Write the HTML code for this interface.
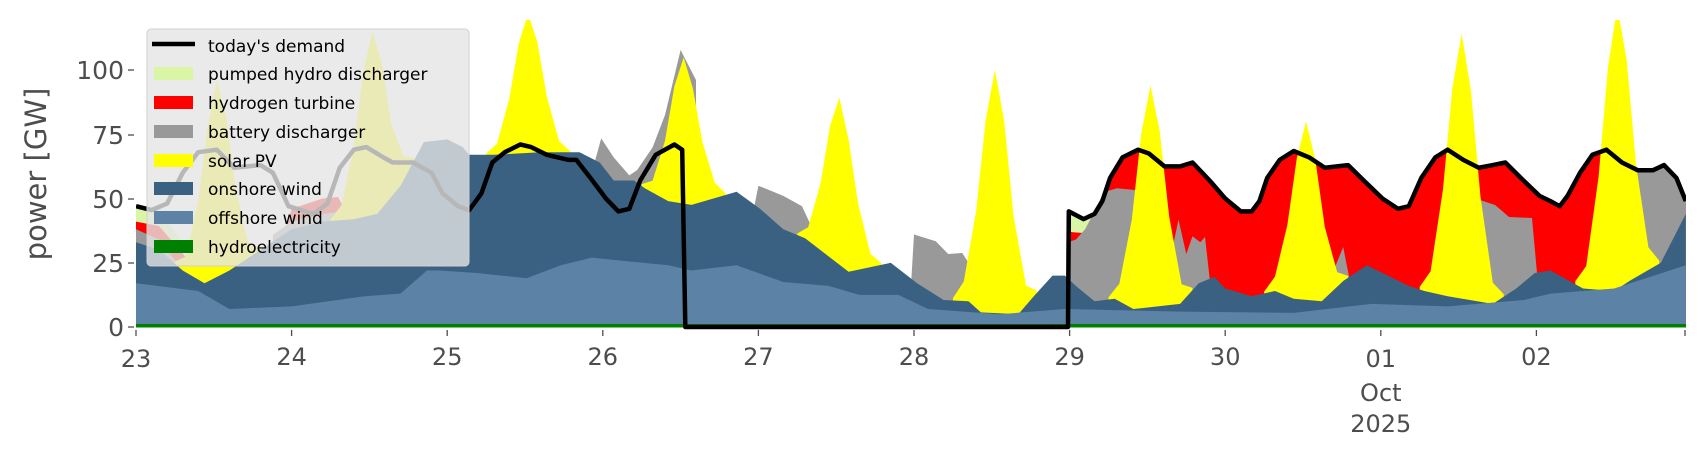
<!DOCTYPE html>
<html><head><meta charset="utf-8"><style>
html,body{margin:0;padding:0;background:#fff;}
svg{display:block;font-family:"DejaVu Sans","Liberation Sans",sans-serif;}
</style></head><body>
<svg width="1706" height="460" viewBox="0 0 1706 460" xmlns="http://www.w3.org/2000/svg">
<defs><clipPath id="cp"><rect x="136" y="20" width="1550" height="310"/></clipPath></defs>
<g clip-path="url(#cp)">
<!-- hydrogen (late) up to demand -->
<path fill="#ff0000" d="M1068.8,327 L1068.8,211.4 L1083.6,219.1 L1094.5,213.9 L1102.3,201.1 L1110.1,177.9 L1122.5,157.4 L1138.1,149.7 L1148.9,153.5 L1164.5,166.4 L1180.1,166.4 L1192.5,162.5 L1209.6,180.5 L1225.2,198.5 L1240.8,211.4 L1251.7,211.4 L1259.4,201.1 L1267.2,177.9 L1279.7,159.9 L1293.7,151.0 L1309.2,157.4 L1324.8,167.7 L1348.1,165.1 L1363.7,180.5 L1382.4,198.5 L1397.9,208.8 L1408.8,206.2 L1421.3,177.9 L1435.3,157.4 L1447.7,149.7 L1463.3,159.9 L1478.8,167.7 L1492.8,165.1 L1505.3,162.5 L1520.8,177.9 L1539.5,195.9 L1550.4,201.1 L1559.7,206.2 L1567.5,195.9 L1580.0,172.8 L1592.4,154.8 L1606.4,149.7 L1622.0,162.5 L1637.6,170.2 L1653.1,170.2 L1664.0,165.1 L1676.4,177.9 L1685.8,201.1 L1685.8,327 Z"/>
<!-- pumped hydro -->
<path fill="#d9f5a6" d="M136,208.8 L160,210 L180,240 L180,327 L136,327 Z"/>
<path fill="#d9f5a6" d="M1068.8,212 L1083.6,219 L1094,216 L1098,228 L1083,233 L1070,232 Z"/>
<!-- hydrogen early -->
<path fill="#ff0000" d="M136,221.6 L159,226 L190,262 L205,280 L205,327 L136,327 Z"/>
<path fill="#ff0000" d="M286,229.3 L291.6,208.8 L322.7,198.5 L338,197 L350,219 L350,327 L286,327 Z"/>
<!-- battery -->
<g fill="#999999">
<path d="M136,229.3 L159.3,239.6 L182.7,270.5 L182.7,327 L136,327 Z"/>
<path d="M272.9,235 L291.6,221.6 L322.7,213.9 L338,212 L353.8,219.1 L353.8,327 L272.9,327 Z"/>
<path d="M595,161 L601.2,138.4 L613.7,157.4 L629.3,175.4 L637,170.2 L652.6,147.4 L665,115 L680.6,50 L696,80 L696,327 L595,327 Z"/>
<path d="M753.8,209 L758.4,185.7 L783.3,195.9 L802,206.2 L809.8,223 L809.8,327 L753.8,327 Z"/>
<path d="M910.9,287 L914,234.5 L935.8,241.2 L948.2,254 L962.2,253 L968.5,262.7 L968.5,327 L910.9,327 Z"/>
<path d="M1066.4,275.6 L1066.4,242.7 L1075.8,239.6 L1085.1,229.3 L1094.5,211.4 L1103.8,192.1 L1116.9,188.2 L1135,190 L1135,327 L1066.4,327 Z"/>
<path d="M1170,260 L1178.5,219.6 L1186.3,254 L1192.5,236.3 L1200.3,242.2 L1205,237 L1209.6,278 L1209.6,327 L1170,327 Z"/>
<path d="M1318.6,301 L1333.8,270 L1343.2,247 L1349.7,280 L1349.7,327 L1318.6,327 Z"/>
<path d="M1480,200 L1495,205 L1501,210 L1509,217 L1532,218 L1537,273 L1537,327 L1480,327 Z"/>
<path d="M1636,170 L1653.1,170.2 L1664.0,165.1 L1676.4,177.9 L1685.8,201.1 L1685.8,327 L1636,327 Z"/>
</g>
<!-- solar -->
<g fill="#ffff00">
<path d="M174.9,327 L174.9,261.5 L185.8,256.6 L198.2,201.1 L207.6,126.5 L216.9,80.3 L226.2,116.8 L235.6,187.7 L248.0,242.4 L258.9,248.9 L258.9,327 Z"/>
<path d="M330.5,327 L330.5,219.1 L341.4,205.4 L353.8,145.6 L363.2,72.1 L372.5,31.5 L381.8,63.3 L391.2,123.5 L403.6,156.6 L414.5,157.6 L414.5,327 Z"/>
<path d="M486.1,327 L486.1,153.5 L497.0,143.8 L509.4,98.3 L518.8,43.3 L528.1,13.5 L537.4,42.2 L546.8,96.5 L559.2,141.2 L570.1,151.0 L570.1,327 Z"/>
<path d="M641.7,327 L641.7,184.1 L652.6,180.8 L665.0,140.7 L674.4,86.2 L683.7,57.2 L693.0,89.0 L702.4,142.0 L714.8,182.8 L725.7,193.4 L725.7,327 Z"/>
<path d="M797.3,327 L797.3,233.5 L808.2,227.3 L820.6,183.3 L830.0,126.0 L839.3,97.5 L848.6,139.6 L858.0,202.9 L870.4,253.8 L881.3,263.0 L881.3,327 Z"/>
<path d="M952.9,327 L952.9,298.2 L963.8,281.5 L976.2,210.8 L985.6,120.4 L994.9,70 L1004.2,121.1 L1013.6,216.5 L1026.0,285.6 L1036.9,290.5 L1036.9,327 Z"/>
<path d="M1108.5,327 L1108.5,297.2 L1119.4,283.6 L1131.8,219.6 L1141.2,133.7 L1150.5,85.4 L1159.8,131.7 L1169.2,216.7 L1181.6,284.3 L1192.5,287.9 L1192.5,327 Z"/>
<path d="M1264.1,327 L1264.1,291.8 L1275.0,276.6 L1287.4,224.7 L1296.8,158.2 L1306.1,121.4 L1315.4,160 L1324.8,227 L1337.2,272.3 L1348.1,275.9 L1348.1,327 Z"/>
<path d="M1419.7,327 L1419.7,286.9 L1430.6,271.2 L1443.0,189.2 L1452.4,87.7 L1461.7,33.8 L1471.0,91.1 L1480.4,195.9 L1492.8,282.8 L1503.7,294.1 L1503.7,327 Z"/>
<path d="M1575.3,327 L1575.3,281.3 L1586.2,266.1 L1598.6,176.7 L1608.0,67.2 L1617.3,6.3 L1626.6,59.5 L1636.0,164.1 L1648.4,247.3 L1659.3,260.7 L1659.3,327 Z"/>
</g>
<!-- onshore -->
<path fill="#3b6182" d="M136,327 L136,242.2 L159.3,249.9 L182.7,270.5 L204.5,283.3 L229.4,270.5 L260.5,249.9 L291.6,229.3 L322.7,221.6 L353.8,219.1 L377.2,213.9 L400.5,185.7 L423.9,142.0 L447.2,139.4 L462.8,147.1 L469.0,154.8 L493.9,154.8 L540.6,152.2 L579.5,152.2 L599.7,162.5 L613.7,180.5 L633.9,180.5 L644.8,188.2 L668.2,201.1 L691.5,204.9 L736.6,191.8 L760.0,208.8 L783.3,229.3 L805.1,238.3 L848.6,271.7 L890.7,262.8 L917.1,283.3 L943.6,300.0 L968.5,301.3 L980.9,312.4 L1018.3,314.2 L1033.8,296.2 L1052.5,275.6 L1064.9,275.6 L1075.8,285.9 L1094.5,301.3 L1114.7,298.7 L1133.4,309.0 L1180.1,303.9 L1198.7,283.3 L1214.3,276.9 L1225.2,288.5 L1251.7,296.2 L1275.0,291.0 L1293.7,298.7 L1321.7,301.3 L1343.5,280.7 L1366.8,265.3 L1408.8,285.9 L1424.4,291.0 L1447.7,296.2 L1492.8,303.9 L1516.2,288.5 L1534.8,273.0 L1550.4,270.5 L1583.1,288.5 L1614.2,291.0 L1629.8,280.7 L1660.9,262.8 L1685.8,213.9 L1685.8,327 Z"/>
<!-- offshore -->
<path fill="#5c83a5" d="M136,327 L136,283.3 L198.2,291.0 L229.4,309.0 L291.6,306.4 L364.7,296.2 L400.5,293.6 L427.0,270.5 L439.4,270.5 L476.8,273.0 L526.6,278.2 L560.8,265.3 L591.9,257.6 L629.3,261.5 L668.2,265.3 L691.5,270.5 L736.6,265.3 L783.3,282.0 L828.4,285.9 L859.5,294.9 L898.4,294.9 L928.0,309.0 L999.6,314.2 L1064.9,309.0 L1180.1,311.6 L1293.7,312.9 L1371.5,303.9 L1447.7,306.4 L1524.0,300.0 L1550.4,293.6 L1614.2,288.5 L1685.8,265.3 L1685.8,327 Z"/>
<rect x="136" y="324" width="1550" height="3.5" fill="#008000"/>
<path fill="none" stroke="#000" stroke-width="4.5" stroke-linejoin="round" d="M136,206.2 L151.6,210.1 L167.1,203.6 L182.7,172.8 L198.2,152.2 L216.9,149.7 L234.0,167.7 L260.5,165.1 L272.9,172.8 L288.5,206.2 L313.4,213.9 L327.4,203.6 L339.8,167.7 L353.8,149.7 L366.3,147.1 L383.4,157.4 L392.7,162.5 L413.0,162.5 L431.6,172.8 L442.5,193.4 L458.1,206.2 L469.0,210.3 L481.4,193.4 L492.3,162.5 L504.8,152.2 L520.3,144.5 L531.2,147.1 L546.8,154.8 L568.6,159.9 L576.3,159.9 L590.4,177.9 L605.9,198.5 L618.4,211.4 L629.3,208.8 L640.2,180.5 L655.7,154.8 L674.4,144.5 L682.2,149.7 L685.3,327 L1068.0,327 L1068.8,211.4 L1083.6,219.1 L1094.5,213.9 L1102.3,201.1 L1110.1,177.9 L1122.5,157.4 L1138.1,149.7 L1148.9,153.5 L1164.5,166.4 L1180.1,166.4 L1192.5,162.5 L1209.6,180.5 L1225.2,198.5 L1240.8,211.4 L1251.7,211.4 L1259.4,201.1 L1267.2,177.9 L1279.7,159.9 L1293.7,151.0 L1309.2,157.4 L1324.8,167.7 L1348.1,165.1 L1363.7,180.5 L1382.4,198.5 L1397.9,208.8 L1408.8,206.2 L1421.3,177.9 L1435.3,157.4 L1447.7,149.7 L1463.3,159.9 L1478.8,167.7 L1492.8,165.1 L1505.3,162.5 L1520.8,177.9 L1539.5,195.9 L1550.4,201.1 L1559.7,206.2 L1567.5,195.9 L1580.0,172.8 L1592.4,154.8 L1606.4,149.7 L1622.0,162.5 L1637.6,170.2 L1653.1,170.2 L1664.0,165.1 L1676.4,177.9 L1685.8,201.1"/>
</g>
<g fill="#4d4d4d" font-size="25" text-anchor="end">
<text x="124" y="79">100</text><text x="124" y="144">75</text><text x="124" y="208">50</text><text x="124" y="272">25</text><text x="124" y="336">0</text>
</g>
<g stroke="#4d4d4d" stroke-width="1.3">
<line x1="128" y1="70" x2="134" y2="70"/><line x1="128" y1="135" x2="134" y2="135"/><line x1="128" y1="199" x2="134" y2="199"/><line x1="128" y1="263" x2="134" y2="263"/><line x1="128" y1="327" x2="134" y2="327"/>
<line x1="136" y1="330" x2="136" y2="336"/><line x1="291.6" y1="330" x2="291.6" y2="336"/><line x1="447.2" y1="330" x2="447.2" y2="336"/><line x1="602.8" y1="330" x2="602.8" y2="336"/><line x1="758.4" y1="330" x2="758.4" y2="336"/><line x1="914" y1="330" x2="914" y2="336"/><line x1="1069.6" y1="330" x2="1069.6" y2="336"/><line x1="1225.2" y1="330" x2="1225.2" y2="336"/><line x1="1380.8" y1="330" x2="1380.8" y2="336"/><line x1="1536.4" y1="330" x2="1536.4" y2="336"/><line x1="1685" y1="330" x2="1685" y2="336"/>
</g>
<g fill="#4d4d4d" font-size="24" text-anchor="middle">
<text x="136" y="367">23</text><text x="291.6" y="365">24</text><text x="447.2" y="365">25</text><text x="602.8" y="365">26</text><text x="758.4" y="365">27</text><text x="914" y="365">28</text><text x="1069.6" y="365">29</text><text x="1225.2" y="365">30</text><text x="1380.8" y="367">01</text><text x="1536.4" y="365">02</text>
<text x="1380.8" y="401">Oct</text><text x="1380.8" y="432">2025</text>
</g>
<text transform="translate(46,174) rotate(-90)" fill="#4d4d4d" font-size="29" text-anchor="middle">power [GW]</text>
<g>
<rect x="147" y="29" width="322" height="237" rx="4" fill="rgb(229,229,229)" fill-opacity="0.8" stroke="#d0d0d0" stroke-width="1"/>
<line x1="152" y1="44" x2="195" y2="44" stroke="#000" stroke-width="4.5"/>
<rect x="154" y="67" width="39" height="13" fill="#d9f5a6"/>
<rect x="154" y="96" width="39" height="13" fill="#ff0000"/>
<rect x="154" y="125" width="39" height="13" fill="#999999"/>
<rect x="154" y="154" width="39" height="13" fill="#ffff00"/>
<rect x="154" y="182" width="39" height="13" fill="#3b6182"/>
<rect x="154" y="211" width="39" height="13" fill="#5c83a5"/>
<rect x="154" y="240" width="39" height="13" fill="#008000"/>
<g font-size="17" fill="#000">
<text x="208" y="52">today's demand</text><text x="208" y="80">pumped hydro discharger</text><text x="208" y="109">hydrogen turbine</text><text x="208" y="138">battery discharger</text><text x="208" y="167">solar PV</text><text x="208" y="195">onshore wind</text><text x="208" y="224">offshore wind</text><text x="208" y="253">hydroelectricity</text>
</g>
</g>
</svg>
</body></html>
